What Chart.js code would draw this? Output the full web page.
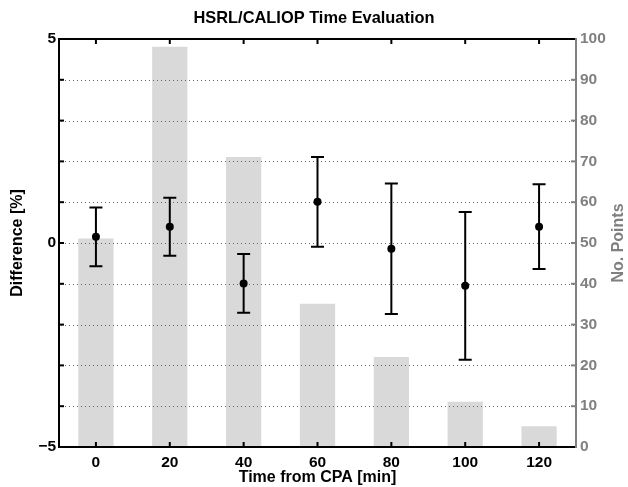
<!DOCTYPE html>
<html>
<head>
<meta charset="utf-8">
<script src="https://cdn.jsdelivr.net/npm/chart.js@4/dist/chart.umd.min.js"></script>
<style>
html,body{margin:0;padding:0;background:#fff;}
#wrap{width:628px;height:487px;}
</style>
</head>
<body>
<div id="wrap"><canvas id="c" width="628" height="487"></canvas></div>
<script>
// ---- data ----
const timeMin   = [0, 20, 40, 60, 80, 100, 120];
const meanDiff  = [0.15, 0.40, -0.99, 1.01, -0.14, -1.05, 0.40];
const errDiff   = [0.72, 0.71, 0.72, 1.10, 1.60, 1.81, 1.04];
const nPoints   = [51, 98, 71, 35, 22, 11, 5];
const xTicks    = [0, 20, 40, 60, 80, 100, 120];
const leftTicks = [-5, -4, -3, -2, -1, 0, 1, 2, 3, 4, 5];
const leftLabels= ['\u22125', '', '', '', '', '0', '', '', '', '', '5'];
const rightTicks= [0, 10, 20, 30, 40, 50, 60, 70, 80, 90, 100];

const FONT = '"Liberation Sans", Arial, Helvetica, sans-serif';
const GREY = '#808080';
Chart.defaults.font.family = FONT;

const framePlugin = {
  id: 'frame',
  afterDatasetDraw(chart, args) {
    if (args.index !== 0) return;
    // dotted grid lines over the bars
    const ctx = chart.ctx, a = chart.chartArea, y2 = chart.scales.y2;
    ctx.save();
    ctx.strokeStyle = '#666';
    ctx.lineWidth = 1;
    ctx.setLineDash([1, 3]);
    rightTicks.forEach(v => {
      if (v === 0 || v === 100) return;
      const py = Math.round(y2.getPixelForValue(v)) + 0.5;
      ctx.beginPath(); ctx.moveTo(a.left + 2, py); ctx.lineTo(a.right - 2, py); ctx.stroke();
    });
    ctx.restore();
  },
  afterDatasetsDraw(chart) {
    const ctx = chart.ctx, a = chart.chartArea;
    const x = chart.scales.x, y = chart.scales.y, y2 = chart.scales.y2;
    ctx.save();
    // error bars
    ctx.strokeStyle = '#000'; ctx.lineWidth = 2; ctx.setLineDash([]);
    timeMin.forEach((t, i) => {
      const px = x.getPixelForValue(t);
      const top = y.getPixelForValue(meanDiff[i] + errDiff[i]);
      const bot = y.getPixelForValue(meanDiff[i] - errDiff[i]);
      ctx.beginPath();
      ctx.moveTo(px, top); ctx.lineTo(px, bot);
      ctx.moveTo(px - 6.5, top); ctx.lineTo(px + 6.5, top);
      ctx.moveTo(px - 6.5, bot); ctx.lineTo(px + 6.5, bot);
      ctx.stroke();
    });
    // tick marks (inward)
    ctx.lineWidth = 2; ctx.strokeStyle = '#000';
    xTicks.forEach(v => {
      const px = x.getPixelForValue(v);
      ctx.beginPath();
      ctx.moveTo(px, a.bottom); ctx.lineTo(px, a.bottom - 5);
      ctx.moveTo(px, a.top); ctx.lineTo(px, a.top + 5);
      ctx.stroke();
    });
    leftTicks.forEach(v => {
      const py = y.getPixelForValue(v);
      ctx.beginPath(); ctx.moveTo(a.left, py); ctx.lineTo(a.left + 5, py); ctx.stroke();
    });
    ctx.strokeStyle = GREY;
    rightTicks.forEach(v => {
      const py = y2.getPixelForValue(v);
      ctx.beginPath(); ctx.moveTo(a.right, py); ctx.lineTo(a.right - 5, py); ctx.stroke();
    });
    // frame
    ctx.strokeStyle = '#000';
    ctx.beginPath();
    ctx.moveTo(a.right, a.top); ctx.lineTo(a.left, a.top); ctx.lineTo(a.left, a.bottom); ctx.lineTo(a.right, a.bottom);
    ctx.stroke();
    ctx.strokeStyle = GREY;
    ctx.beginPath(); ctx.moveTo(a.right, a.top - 1); ctx.lineTo(a.right, a.bottom + 1); ctx.stroke();
    ctx.restore();
  },
  afterDraw(chart) {
    const ctx = chart.ctx, a = chart.chartArea;
    ctx.save();
    ctx.translate(619, (a.top + a.bottom) / 2);
    ctx.rotate(-Math.PI / 2);
    ctx.font = 'bold 16px ' + FONT;
    ctx.fillStyle = GREY;
    ctx.textAlign = 'center';
    ctx.textBaseline = 'middle';
    ctx.fillText('No. Points', 0, 0);
    ctx.restore();
  }
};

new Chart(document.getElementById('c'), {
  data: {
    datasets: [
      {
        type: 'bar',
        label: 'No. Points',
        data: timeMin.map((t, i) => ({x: t, y: nPoints[i]})),
        yAxisID: 'y2',
        xAxisID: 'x',
        backgroundColor: '#d9d9d9',
        borderWidth: 0,
        barThickness: 34.6,
        order: 1
      },
      {
        type: 'line',
        label: 'Difference',
        data: timeMin.map((t, i) => ({x: t, y: meanDiff[i]})),
        yAxisID: 'y',
        xAxisID: 'x',
        showLine: false,
        pointRadius: 4,
        pointBackgroundColor: '#000',
        pointBorderWidth: 0,
        order: 0
      }
    ]
  },
  options: {
    responsive: false,
    animation: false,
    layout: {padding: 0},
    plugins: {
      legend: {display: false},
      tooltip: {enabled: false},
      title: {
        display: true,
        text: 'HSRL/CALIOP Time Evaluation',
        color: '#000',
        font: {size: 16.4, weight: 'bold', family: FONT},
        padding: {top: 9, bottom: 10.3}
      }
    },
    scales: {
      x: {
        type: 'linear',
        position: 'bottom',
        offset: false,
        min: -10, max: 130,
        afterBuildTicks: s => { s.ticks = xTicks.map(v => ({value: v})); },
        afterFit: s => { s.height = 40; },
        grid: {display: false, drawTicks: false, offset: false},
        border: {display: false},
        ticks: {color: '#000', font: {size: 15.5, weight: 'bold'}, padding: 6, autoSkip: false, maxRotation: 0},
        title: {display: true, text: 'Time from CPA [min]', color: '#000', font: {size: 16, weight: 'bold'}, padding: {top: 0, bottom: 0}}
      },
      y: {
        type: 'linear',
        position: 'left',
        min: -5, max: 5,
        afterBuildTicks: s => { s.ticks = leftTicks.map(v => ({value: v})); },
        afterFit: s => { s.width = 59; },
        grid: {display: false, drawTicks: false},
        border: {display: false},
        ticks: {color: '#000', font: {size: 15.5, weight: 'bold'}, padding: 3, autoSkip: false,
                callback: v => leftLabels[leftTicks.indexOf(v)]},
        title: {display: true, text: 'Difference [%]', color: '#000', font: {size: 16, weight: 'bold'}, padding: {top: 8, bottom: 0}}
      },
      y2: {
        type: 'linear',
        position: 'right',
        min: 0, max: 100,
        afterBuildTicks: s => { s.ticks = rightTicks.map(v => ({value: v})); },
        afterFit: s => { s.width = 52; },
        grid: {display: false, drawTicks: false},
        border: {display: false},
        ticks: {color: GREY, font: {size: 15.5, weight: 'bold'}, padding: 4, autoSkip: false}
      }
    }
  },
  plugins: [framePlugin]
});
</script>
</body>
</html>
